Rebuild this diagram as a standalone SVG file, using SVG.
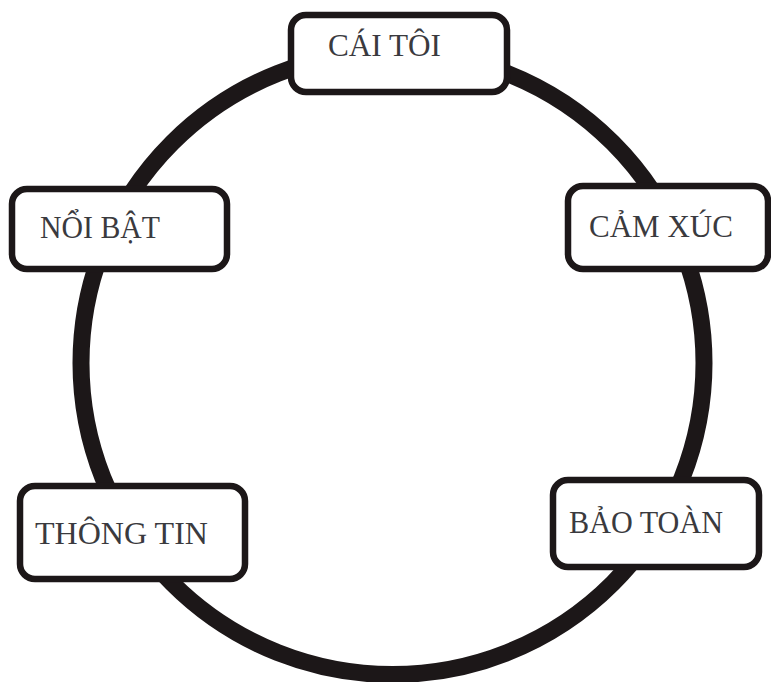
<svg xmlns="http://www.w3.org/2000/svg" width="771" height="682" viewBox="0 0 771 682">
<style>
.box{fill:#fff;stroke:#1c1718;stroke-width:6.5}
.lbl{font-family:"Liberation Serif","Times New Roman",serif;font-size:31px;fill:#3a3a3e}
</style>
<rect width="771" height="682" fill="#fff"/>
<g id="connectors">
<circle cx="392.5" cy="363" r="311.5" fill="none" stroke="#1c1718" stroke-width="17"/>
</g>
<g id="node-cai-toi">
<rect class="box" x="291" y="15" width="216" height="77" rx="15"/>
<text class="lbl" x="328" y="56" textLength="113" lengthAdjust="spacingAndGlyphs">CÁI TÔI</text>
</g>
<g id="node-noi-bat">
<rect class="box" x="12" y="189" width="215" height="80" rx="15"/>
<text class="lbl" x="40" y="238" textLength="120" lengthAdjust="spacingAndGlyphs">NỔI BẬT</text>
</g>
<g id="node-cam-xuc">
<rect class="box" x="568" y="186" width="200" height="83" rx="15"/>
<text class="lbl" x="589" y="237" textLength="144" lengthAdjust="spacingAndGlyphs">CẢM XÚC</text>
</g>
<g id="node-thong-tin">
<rect class="box" x="20" y="486" width="225" height="93" rx="15"/>
<text class="lbl" x="35" y="544" textLength="173" lengthAdjust="spacingAndGlyphs">THÔNG TIN</text>
</g>
<g id="node-bao-toan">
<rect class="box" x="553" y="480" width="206" height="87" rx="15"/>
<text class="lbl" x="569" y="533" textLength="154" lengthAdjust="spacingAndGlyphs">BẢO TOÀN</text>
</g>
</svg>
